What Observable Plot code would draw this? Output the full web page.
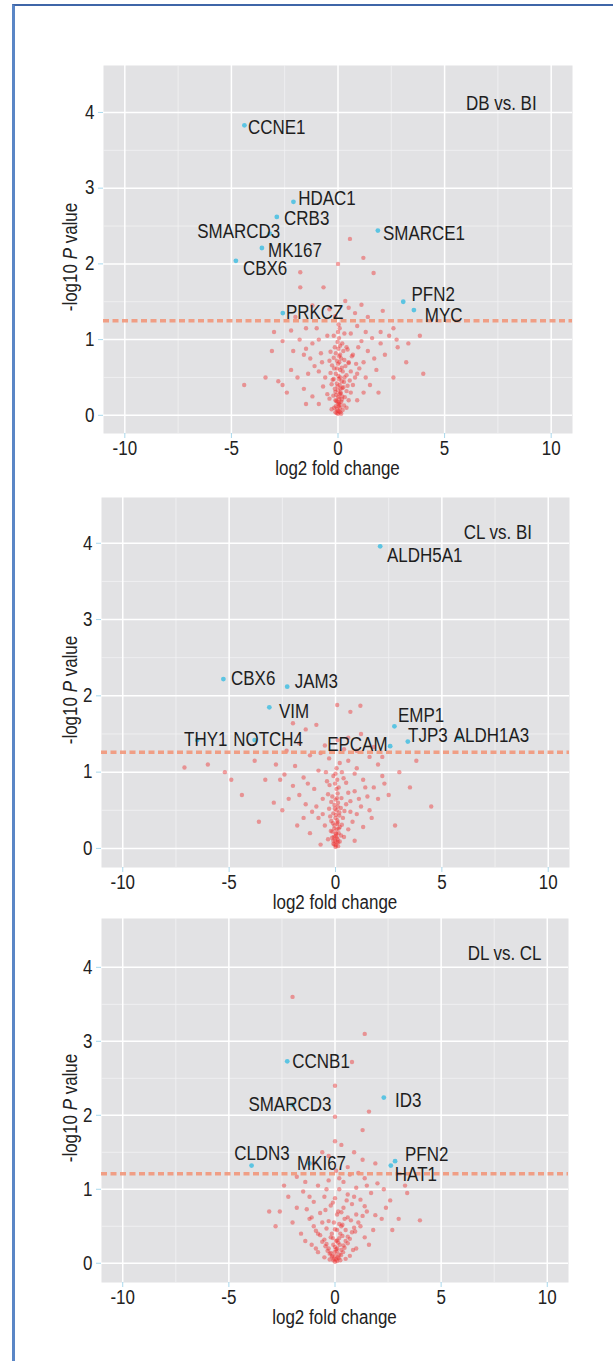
<!DOCTYPE html>
<html>
<head>
<meta charset="utf-8">
<script src="https://cdn.jsdelivr.net/npm/d3@7"></script>
<script src="https://cdn.jsdelivr.net/npm/@observablehq/plot@0.6"></script>
<style>
  html, body { margin: 0; padding: 0; background: #ffffff; }
  body { width: 613px; height: 1361px; position: relative; overflow: hidden; font-family: "Liberation Sans", Arial, sans-serif; }
  #frame { position: absolute; left: 12px; top: 4px; right: -4px; bottom: -4px; border-top: 2px solid #3f66a8; border-left: 3px solid #5a86c6; pointer-events: none; }
  #charts svg { display: block; overflow: visible; }
</style>
</head>
<body>
<div id="charts"></div>
<div id="frame"></div>
<script>
// ---------- data ----------
const xTicks = [-10, -5, 0, 5, 10];
const xMinor = [-7.5, -2.5, 2.5, 7.5];
const yTicks = [0, 1, 2, 3, 4];
const yMinor = [0.5, 1.5, 2.5, 3.5];

const titles = ["DB vs. BI", "CL vs. BI", "DL vs. CL"];
const thresholds = [1.25, 1.26, 1.21];

// non-significant genes [log2FC, -log10P]
const cloud1 = [[0,0.02],[0.05,0.05],[-0.05,0.08],[0.1,0.1],[-0.1,0.12],[0.02,0.15],[0.15,0.18],[-0.12,0.2],[0.05,0.22],[0.2,0.25],[-0.08,0.27],[0.12,0.3],[0,0.33],[-0.15,0.35],[0.25,0.37],[0.08,0.4],[-0.05,0.42],[0.18,0.45],[-0.2,0.48],[0.3,0.5],[0.02,0.52],[-0.1,0.55],[0.22,0.58],[0.1,0.6],[-0.18,0.62],[0.35,0.65],[0,0.68],[-0.05,0.72],[0.15,0.75],[0.05,0.78],[-0.1,0.82],[0.25,0.85],[0.02,0.88],[0.1,0.92],[-0.02,0.97],[0.05,1.02],[0,1.1],[0.08,1.15],[0.03,1.2],
  [0,0.06],[0.03,0.12],[-0.03,0.18],[0.07,0.28],[-0.02,0.38],[0.04,0.48],[0.1,0.04],[-0.06,0.03],[0.08,0.14],[0.01,0.24],[0.12,0.35],[-0.04,0.62],[0.06,0.7],
  [0.4,0.1],[-0.3,0.08],[0.5,0.2],[-0.4,0.22],[0.6,0.3],[-0.5,0.28],[0.7,0.4],[-0.7,0.38],[0.8,0.5],[-0.6,0.5],[0.9,0.55],[-0.9,0.58],[1.0,0.62],[-1.1,0.65],[0.5,0.7],[-0.4,0.72],[1.2,0.7],[-1.3,0.75],[0.7,0.8],[-0.8,0.82],[1.4,0.85],[-1.5,0.88],[0.4,0.9],[-1.2,0.95],[1.1,0.98],[-1.8,1.0],[1.6,1.02],[-0.5,1.05],[0.6,1.08],[2.0,1.1],[-2.2,1.12],[-1.0,1.15],[0.9,1.18],[2.4,1.05],[-2.6,0.98],[-2.8,0.45],[-2.6,0.4],[-2.2,0.6],[2.2,0.8],[2.8,0.9],[-3.1,0.85],[3.3,0.95],[1.8,0.6],[-1.9,0.5],[1.5,0.4],[-1.6,0.35],[1.2,0.3],[-1.2,0.25],[0.9,0.2],[-0.9,0.15],[-4.4,0.4],[4.0,0.55],[3.84,1.05],[2.75,1.0],
  [0.15,0.02],[-0.12,0.04],[0.22,0.07],[-0.18,0.1],[0.28,0.13],[0.05,0.17],[-0.08,0.19],[0.18,0.21],[0.32,0.24],[-0.22,0.26],[0.12,0.29],[0.4,0.32],[-0.12,0.31],[0.2,0.36],[0.45,0.39],[-0.3,0.41],[0.28,0.44],[0.55,0.46],[-0.25,0.47],[0.1,0.5],[0.4,0.53],[-0.35,0.56],[0.6,0.58],[0.18,0.63],[-0.28,0.66],[0.5,0.69],[0.3,0.73],[-0.2,0.76],[0.65,0.78],[0.1,0.8],[-0.35,0.84],[0.45,0.87],[0.2,0.95],[-0.15,0.9],[0.85,0.68],[-0.75,0.7],[1.3,0.5],[-1.4,0.55],[1.7,0.75],[-1.6,0.8],[2.0,0.95],[-2.1,0.85],[0.95,0.9],[-0.9,1.0],[1.3,1.1],[-1.5,1.15],[0.3,1.08],[-0.2,1.05],[2.6,1.15],[-3.0,1.1],[3.2,0.7],[-3.4,0.5],[2.6,0.5],[-2.4,0.3],[1.9,0.3],[-1.5,0.15],
  [0.56,2.33],[1.19,2.08],[0,2.0],[1.67,1.88],[-1.77,1.89],[-1.77,1.69],[-0.68,1.69],[0.34,1.51],[1.1,1.46],[0.8,1.35],[-0.13,1.31],[-1.2,1.45],[-0.4,1.4],[0.5,1.42],[1.4,1.3],[2.1,1.38],[-2.0,1.3]];

const cloud2 = [[0,0.02],[-0.05,0.05],[0.05,0.08],[0.1,0.12],[-0.1,0.1],[0,0.16],[0.15,0.2],[-0.15,0.22],[0.05,0.25],[0.2,0.28],[-0.05,0.3],[0.1,0.34],[-0.2,0.36],[0,0.4],[0.18,0.43],[-0.1,0.46],[0.05,0.5],[0.25,0.53],[-0.05,0.57],[0.12,0.6],[0,0.64],[-0.15,0.68],[0.1,0.72],[0.05,0.78],[-0.02,0.85],[0.08,0.9],[0,0.98],[0.05,1.05],
  [0.02,0.04],[-0.02,0.1],[0.06,0.14],[0.01,0.2],[-0.06,0.26],[0.08,0.32],[0.02,0.44],[-0.03,0.52],[0.07,0.66],[0.12,0.08],[-0.08,0.15],
  [0.4,0.15],[-0.35,0.12],[0.6,0.25],[-0.5,0.3],[0.8,0.35],[-0.8,0.4],[1.0,0.45],[-1.1,0.48],[1.2,0.55],[-1.4,0.58],[0.7,0.62],[-0.6,0.65],[1.5,0.68],[-1.7,0.7],[0.9,0.75],[-1.0,0.78],[1.8,0.8],[-2.0,0.82],[0.5,0.86],[-0.4,0.88],[1.3,0.9],[-1.5,0.93],[2.2,0.95],[-2.4,0.97],[0.3,1.0],[-0.8,1.02],[1.0,1.05],[-1.9,1.08],[2.0,1.1],[-2.8,1.1],[0.6,1.15],[-0.3,1.18],[1.6,1.2],[-1.2,1.22],[2.5,0.7],[-2.9,0.6],[-3.3,0.9],[3.0,1.0],[-3.8,1.15],[-5.2,1.0],[-7.1,1.06],[2.0,0.65],[4.5,0.55],[-4.4,0.7],[3.5,0.8],[-2.5,0.5],[1.7,0.4],[-1.8,0.3],[1.3,0.28],[-1.2,0.2],[-0.7,0.05],[0.9,0.1],
  [0.12,0.03],[-0.1,0.06],[0.2,0.09],[-0.16,0.14],[0.26,0.17],[0.04,0.19],[-0.22,0.23],[0.15,0.26],[0.3,0.31],[-0.12,0.33],[0.08,0.37],[0.35,0.4],[-0.25,0.42],[0.18,0.47],[0.42,0.49],[-0.3,0.52],[0.1,0.55],[0.5,0.58],[-0.2,0.61],[0.28,0.66],[-0.35,0.71],[0.6,0.73],[0.15,0.8],[-0.28,0.83],[0.38,0.92],[-0.1,0.95],[0.2,1.12],[-0.45,1.0],[0.9,0.98],[-1.3,0.85],[1.4,0.8],[-2.2,0.65],[2.3,0.85],[-2.6,0.9],[1.1,0.65],[-0.9,0.55],[0.7,0.48],[-0.6,0.45],[1.6,0.5],[-1.5,0.4],[-3.6,0.35],[2.8,0.3],[-4.9,0.9],[-6.0,1.1],[3.8,1.15],[-0.7,1.25],[0.4,1.3],[1.0,1.28],
  [0.08,1.88],[1.17,1.87],[0.7,1.79],[-0.9,1.62],[-2.0,1.64],[-1.4,1.56],[1.2,1.5],[0.1,1.42],[-0.5,1.35],[0.6,1.45],[1.8,1.33],[-1.7,1.38],[2.2,1.2],[-2.3,1.28]];

const cloud3 = [[0,0.02],[0.05,0.05],[-0.05,0.06],[0.12,0.08],[-0.12,0.1],[0.2,0.12],[-0.2,0.14],[0.08,0.16],[0.3,0.18],[-0.3,0.2],[0,0.22],[0.4,0.24],[-0.4,0.26],[0.15,0.28],[0.5,0.3],[-0.5,0.32],[-0.1,0.34],[0.6,0.36],[-0.7,0.38],[0.25,0.4],[0.8,0.42],[-0.9,0.44],[0,0.46],[0.9,0.48],[-1.0,0.5],[0.35,0.52],[1.1,0.55],[-0.3,0.57],[-1.2,0.6],[0.6,0.62],[1.3,0.64],[0.1,0.66],[-0.7,0.68],[1.5,0.7],[-1.33,0.73],[0.4,0.75],[-0.2,0.78],[0.8,0.8],[-1.0,0.83],[1.2,0.86],[0,0.88],[-0.5,0.9],[0.6,0.93],[1.7,0.95],[-1.5,0.97],[0.2,1.0],[1.0,1.02],[-0.8,1.05],[2.0,1.08],[0.4,1.1],[-0.3,1.12],[1.4,1.15],[-1.8,1.17],[0.7,1.2],[0.05,1.25],
  [0.02,0.1],[-0.02,0.15],[0.1,0.2],[-0.08,0.25],[0.05,0.3],[0.2,0.34],[-0.15,0.4],[0.1,0.45],[0.3,0.5],[-0.05,0.55],[0.45,0.6],[0.15,0.7],[-0.25,0.05],[0.25,0.04],
  [0.1,0.03],[-0.08,0.04],[0.18,0.07],[-0.15,0.09],[0.28,0.11],[-0.25,0.13],[0.38,0.15],[-0.35,0.17],[0.05,0.19],[0.45,0.21],[-0.45,0.23],[0.22,0.25],[0.6,0.27],[-0.6,0.29],[0.1,0.31],[0.7,0.33],[-0.2,0.35],[0.35,0.37],[-0.8,0.4],[0.95,0.43],[0.5,0.45],[-0.4,0.47],[1.2,0.5],[0.2,0.53],[-0.6,0.55],[0.75,0.58],[-1.1,0.62],[1.0,0.66],[0.3,0.69],[-0.45,0.72],[1.4,0.77],[-0.1,0.82],[0.55,0.85],[-1.2,0.9],[0.9,0.9],[-0.4,1.0],[1.5,1.05],[-1.4,1.1],[0.2,1.15],[1.1,1.22],[-2.4,1.05],[2.4,0.75],[-1.8,0.75],[1.9,0.65],[-2.8,0.5],[2.7,0.45],[-1.4,0.3],[1.6,0.25],[0.85,0.18],[-0.9,0.2],
  [2.3,1.0],[-2.2,0.9],[2.6,0.85],[-2.6,0.7],[-3.1,0.7],[4.0,0.58],[3.0,0.6],[-2.0,0.55],[1.8,0.45],[2.2,0.6],[-1.6,0.4],[1.4,0.35],[-1.1,0.25],[1.0,0.2],[-0.8,0.15],[0.7,0.1],[-0.5,0.08],[0.5,0.06],[3.4,0.95],[3.3,1.05],
  [-2.0,3.6],[1.4,3.1],[0.8,2.72],[0,2.4],[0,1.98],[1.3,1.8],[1.6,2.05],[0,1.65],[0.9,1.5],[-0.3,1.45],[1.3,1.4],[0.6,1.3],[-1.0,1.35],[0.3,1.6],[-0.6,1.5],[1.9,1.35]];

// significant (labelled) genes [name, log2FC, -log10P]
const sig1 = [["CCNE1",-4.39,3.83],["HDAC1",-2.09,2.82],["CRB3",-2.87,2.62],["SMARCD3",-3.2,2.40],["MK167",-3.57,2.21],["CBX6",-4.79,2.04],["SMARCE1",1.87,2.44],["PFN2",3.06,1.50],["MYC",3.56,1.39],["PRKCZ",-2.59,1.35]];
const sig2 = [["ALDH5A1",2.10,3.96],["CBX6",-5.27,2.22],["JAM3",-2.27,2.12],["VIM",-3.11,1.85],["EMP1",2.77,1.60],["TJP3",3.40,1.40],["EPCAM",2.57,1.34],["ALDH1A3",5.8,1.45],["THY1",-6.5,1.42],["NOTCH4",-3.8,1.42]];
const sig3 = [["CCNB1",-2.25,2.73],["ID3",2.30,2.24],["CLDN3",-3.93,1.32],["PFN2",2.83,1.38],["HAT1",2.63,1.32],["SMARCD3",-2.0,2.14],["MKI67",-1.2,1.35]];

// label anchor positions (text start) [name, x, y]
const labels1 = [["CCNE1",-4.22,3.80],["HDAC1",-1.87,2.86],["CRB3",-2.53,2.60],["SMARCD3",-6.6,2.42],["MK167",-3.28,2.17],["CBX6",-4.46,1.93],["SMARCE1",2.11,2.40],["PFN2",3.45,1.59],["MYC",4.07,1.31],["PRKCZ",-2.44,1.36]];
const labels2 = [["ALDH5A1",2.42,3.83],["CBX6",-4.91,2.23],["JAM3",-1.92,2.19],["VIM",-2.66,1.79],["EMP1",2.94,1.74],["TJP3",3.41,1.48],["ALDH1A3",5.56,1.48],["THY1",-7.12,1.43],["NOTCH4",-4.81,1.43],["EPCAM",-0.39,1.36]];
const labels3 = [["CCNB1",-2.01,2.73],["SMARCD3",-4.08,2.14],["ID3",2.83,2.20],["CLDN3",-4.75,1.48],["MKI67",-1.79,1.35],["PFN2",3.30,1.47],["HAT1",2.82,1.19]];
const titlePos = [[6.0,4.12],[6.03,4.14],[6.25,4.19]];

const panels = [
  {cloud: cloud1, sig: sig1, labels: labels1, height: 477, marginTop: 65, marginBottom: 44, marginLeft: 103, marginRight: 41, ydom: [-0.24, 4.62]},
  {cloud: cloud2, sig: sig2, labels: labels2, height: 434, marginTop: 20, marginBottom: 44, marginLeft: 101, marginRight: 44, ydom: [-0.25, 4.6]},
  {cloud: cloud3, sig: sig3, labels: labels3, height: 421, marginTop: 7, marginBottom: 50, marginLeft: 101, marginRight: 45, ydom: [-0.26, 4.66]}
];

const container = document.getElementById("charts");
const FONT = "'Liberation Sans', Arial, Helvetica, sans-serif";
const FS = 19.5;      // font size
const SQUEEZE = 0.87; // horizontal condensation of the original's narrow typeface

panels.forEach((p, i) => {
  const chart = Plot.plot({
    width: 613,
    height: p.height,
    marginTop: p.marginTop,
    marginBottom: p.marginBottom,
    marginLeft: p.marginLeft,
    marginRight: p.marginRight,
    style: {fontFamily: FONT, fontSize: FS + "px", background: "transparent", color: "#222", overflow: "visible"},
    x: {domain: [-11, 11]},
    y: {domain: p.ydom},
    marks: [
      Plot.frame({fill: "#e2e2e4", stroke: null}),
      Plot.ruleX(xMinor, {stroke: "#f2f2f4", strokeWidth: 0.8}),
      Plot.ruleY(yMinor, {stroke: "#f2f2f4", strokeWidth: 0.8}),
      Plot.ruleX(xTicks, {stroke: "#ffffff", strokeWidth: 1.5}),
      Plot.ruleY(yTicks, {stroke: "#ffffff", strokeWidth: 1.5}),
      Plot.dot(p.cloud, {x: d => d[0], y: d => d[1], r: 2.2, fill: "#ee3030", fillOpacity: 0.45, stroke: null}),
      Plot.ruleY([thresholds[i]], {stroke: "#f2977a", strokeWidth: 3.5, strokeDasharray: "6,3.5", strokeOpacity: 0.9}),
      Plot.dot(p.sig, {x: d => d[1], y: d => d[2], r: 2.4, fill: "#5cc4e2", stroke: null}),
      Plot.text(p.labels, {x: d => d[1], y: d => d[2], text: d => d[0], textAnchor: "start", fontSize: FS, fill: "#1e1e1e"}),
      Plot.text([titles[i]], {x: () => titlePos[i][0], y: () => titlePos[i][1], text: d => d, textAnchor: "start", fontSize: FS, fill: "#1e1e1e"}),
      Plot.axisX(xTicks, {tickSize: 5, tickPadding: 3, stroke: "#a9d8ec", fill: "#222", fontSize: FS, tickFormat: d => String(d), label: null}),
      Plot.axisY(yTicks, {tickSize: 5, tickPadding: 4, stroke: "#a9d8ec", fill: "#222", fontSize: FS, tickFormat: d => String(d), label: null})
    ]
  });

  const svg = d3.select(chart);
  const plotTop = p.marginTop;
  const plotBottom = p.height - p.marginBottom;
  const plotLeft = p.marginLeft;
  const plotRight = 613 - p.marginRight;

  // x axis title
  svg.append("text")
    .attr("x", (plotLeft + plotRight) / 2)
    .attr("y", plotBottom + 35)
    .attr("text-anchor", "middle")
    .attr("dy", "0.35em")
    .attr("font-family", FONT)
    .attr("font-size", FS)
    .attr("fill", "#222")
    .text("log2 fold change");

  // y axis title with italic P
  const cy = (plotTop + plotBottom) / 2 + 8;
  const yt = svg.append("text")
    .attr("transform", `translate(70,${cy}) rotate(-90)`)
    .attr("text-anchor", "middle")
    .attr("dy", "0.35em")
    .attr("font-family", FONT)
    .attr("font-size", FS)
    .attr("fill", "#222");
  yt.append("tspan").text("-log10 ");
  yt.append("tspan").attr("font-style", "italic").text("P");
  yt.append("tspan").text(" value");

  container.appendChild(chart);

  // condense all text horizontally
  svg.selectAll("text").each(function() {
    const len = this.getComputedTextLength();
    if (len > 0) {
      this.setAttribute("textLength", (len * SQUEEZE).toFixed(2));
      this.setAttribute("lengthAdjust", "spacingAndGlyphs");
    }
  });
});
</script>
</body>
</html>
